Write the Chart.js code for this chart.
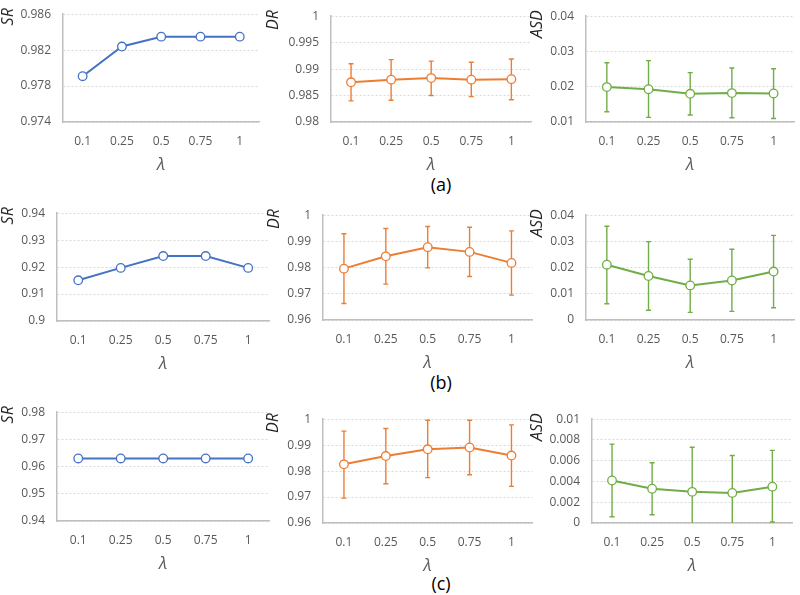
<!DOCTYPE html>
<html>
<head>
<meta charset="utf-8">
<script src="https://cdn.jsdelivr.net/npm/chart.js@4.4.1/dist/chart.umd.min.js"></script>
<style>
    html, body { margin: 0; padding: 0; background: #fff; }
    #page { position: relative; width: 800px; height: 595px; overflow: hidden; background: #fff; }
    #page canvas { position: absolute; }
    .caption { position: absolute; width: 60px; text-align: center; font: 18px "Open Sans", sans-serif; color: #000; }
</style>
</head>
<body>
<div id="page">
    <div class="caption" style="left:411px; top:172px;">(a)</div>
    <div class="caption" style="left:411px; top:370px;">(b)</div>
    <div class="caption" style="left:411px; top:571px;">(c)</div>
</div>
<script>
// lambda values on the x axis
const lambdas = ["0.1", "0.25", "0.5", "0.75", "1"];

// (a)
const srA = [0.9791, 0.9824, 0.9835, 0.9835, 0.9835];
const drA = [0.9875, 0.9880, 0.9883, 0.9880, 0.9881];
const drALow = [0.9840, 0.9841, 0.9850, 0.9848, 0.9842];
const drAHigh = [0.9910, 0.9918, 0.9915, 0.9913, 0.9919];
const asdA = [0.0199, 0.0193, 0.0180, 0.0182, 0.0181];
const asdALow = [0.0129, 0.0113, 0.0120, 0.0112, 0.0110];
const asdAHigh = [0.0268, 0.0274, 0.0240, 0.0253, 0.0251];

// (b)
const srB = [0.9151, 0.9197, 0.9241, 0.9241, 0.9197];
const drB = [0.9796, 0.9843, 0.9878, 0.9860, 0.9818];
const drBLow = [0.9663, 0.9737, 0.9799, 0.9766, 0.9695];
const drBHigh = [0.9929, 0.9949, 0.9957, 0.9954, 0.9940];
const asdB = [0.0211, 0.0168, 0.0132, 0.0151, 0.0185];
const asdBLow = [0.0062, 0.0037, 0.0029, 0.0033, 0.0047];
const asdBHigh = [0.0358, 0.0299, 0.0232, 0.0270, 0.0323];

// (c)
const srC = [0.963, 0.963, 0.963, 0.963, 0.963];
const drC = [0.9826, 0.9858, 0.9884, 0.9891, 0.9860];
const drCLow = [0.9696, 0.9751, 0.9775, 0.9786, 0.9741];
const drCHigh = [0.9954, 0.9964, 0.9996, 0.9996, 0.9978];
const asdC = [0.0041, 0.0033, 0.0030, 0.0029, 0.0035];
const asdCLow = [0.0006, 0.0008, -0.0013, -0.0007, 0.0001];
const asdCHigh = [0.0076, 0.0058, 0.0073, 0.0065, 0.0070];

// y axis [min, max, step]
const srARange = [0.974, 0.986, 0.004];
const drARange = [0.98, 1, 0.005];
const asdARange = [0.01, 0.04, 0.01];
const srBRange = [0.9, 0.94, 0.01];
const drBRange = [0.96, 1, 0.01];
const asdBRange = [0, 0.04, 0.01];
const srCRange = [0.94, 0.98, 0.01];
const drCRange = [0.96, 1, 0.01];
const asdCRange = [0, 0.01, 0.002];

const BLUE = "#4472C4";
const ORANGE = "#ED7D31";
const GREEN = "#70AD47";
const TEXT = "#595959";
const FONT = "'Open Sans', sans-serif";

// error bars drawn under the line, clipped to the plot
const errorBars = {
    id: "errorBars",
    beforeDatasetsDraw(chart) {
        const ds = chart.data.datasets[0];
        if (!ds.errLow) return;
        const { ctx, chartArea, scales: { x, y } } = chart;
        ctx.save();
        ctx.beginPath();
        ctx.rect(chartArea.left, chartArea.top - 2, chartArea.right - chartArea.left, chartArea.bottom - chartArea.top + 2);
        ctx.clip();
        ctx.strokeStyle = ds.borderColor;
        ctx.lineWidth = 1.4;
        ds.data.forEach((v, i) => {
            const px = x.getPixelForValue(i);
            const top = y.getPixelForValue(ds.errHigh[i]);
            const bot = y.getPixelForValue(ds.errLow[i]);
            ctx.beginPath();
            ctx.moveTo(px, top);
            ctx.lineTo(px, bot);
            ctx.moveTo(px - 2.5, top);
            ctx.lineTo(px + 2.5, top);
            ctx.moveTo(px - 2.5, bot);
            ctx.lineTo(px + 2.5, bot);
            ctx.stroke();
        });
        ctx.restore();
    }
};

// y title sits a little above the plot top, like the original
const yTitle = {
    id: "yTitle",
    afterDraw(chart, args, opts) {
        const { ctx, chartArea } = chart;
        ctx.save();
        ctx.translate(opts.x, chartArea.top - 6);
        ctx.rotate(-Math.PI / 2);
        ctx.font = "italic 16px " + FONT;
        ctx.fillStyle = "#262626";
        ctx.textAlign = "right";
        ctx.textBaseline = "middle";
        ctx.fillText(opts.text, 0, 0);
        ctx.restore();
    }
};

function makePanel(box, title, values, low, high, range, color) {
    const padTop = 10;
    const xAxisH = 56;
    const left = box.titleX - 13;
    const top = box.top - padTop;
    const width = box.right - left;
    const height = box.bottom - top + xAxisH;
    const yAxisW = box.axisX - left;

    const canvas = document.createElement("canvas");
    canvas.width = width;
    canvas.height = height;
    canvas.style.left = left + "px";
    canvas.style.top = top + "px";
    canvas.style.width = width + "px";
    canvas.style.height = height + "px";
    document.getElementById("page").appendChild(canvas);

    return new Chart(canvas, {
        type: "line",
        data: {
            labels: lambdas,
            datasets: [{
                data: values,
                errLow: low,
                errHigh: high,
                borderColor: color,
                borderWidth: 2,
                backgroundColor: "#fff",
                pointBackgroundColor: "#fff",
                pointBorderColor: color,
                pointBorderWidth: 1.3,
                pointRadius: 4.3,
                tension: 0
            }]
        },
        options: {
            responsive: false,
            animation: false,
            layout: { padding: { top: padTop, left: 0, right: 0, bottom: 0 } },
            plugins: {
                legend: { display: false },
                tooltip: { enabled: false },
                yTitle: { text: title, x: 13 }
            },
            scales: {
                x: {
                    offset: true,
                    afterFit: s => { s.height = xAxisH; },
                    grid: { display: false },
                    border: { display: true, color: "#bfbfbf", width: 1.5 },
                    ticks: { color: TEXT, padding: 4, font: { family: FONT, size: 12 } },
                    title: {
                        display: true,
                        text: "λ",
                        color: TEXT,
                        padding: { top: 0, bottom: 3 },
                        font: { family: FONT, size: 17, style: "italic" }
                    }
                },
                y: {
                    min: range[0],
                    max: range[1],
                    afterFit: s => { s.width = yAxisW; },
                    grid: { color: "#d9d9d9", lineWidth: 1, drawTicks: false },
                    border: { display: true, color: "#bfbfbf", width: 1.5, dash: [2, 2] },
                    ticks: {
                        stepSize: range[2],
                        color: TEXT,
                        padding: 12,
                        font: { family: FONT, size: 12 },
                        callback: v => String(parseFloat(v.toFixed(6)))
                    }
                }
            }
        },
        plugins: [errorBars, yTitle]
    });
}

document.addEventListener("DOMContentLoaded", () => {
    makePanel({ axisX: 63, right: 265, top: 5, bottom: 122, titleX: 8 }, "SR", srA, null, null, srARange, BLUE);
    makePanel({ axisX: 331, right: 537, top: 7, bottom: 122, titleX: 273 }, "DR", drA, drALow, drAHigh, drARange, ORANGE);
    makePanel({ axisX: 586, right: 800, top: 7, bottom: 122, titleX: 537 }, "ASD", asdA, asdALow, asdAHigh, asdARange, GREEN);

    makePanel({ axisX: 57, right: 275, top: 204, bottom: 321, titleX: 8 }, "SR", srB, null, null, srBRange, BLUE);
    makePanel({ axisX: 323, right: 538, top: 206, bottom: 320, titleX: 274 }, "DR", drB, drBLow, drBHigh, drBRange, ORANGE);
    makePanel({ axisX: 586, right: 800, top: 206, bottom: 320, titleX: 537 }, "ASD", asdB, asdBLow, asdBHigh, asdBRange, GREEN);

    makePanel({ axisX: 57, right: 275, top: 403, bottom: 521, titleX: 8 }, "SR", srC, null, null, srCRange, BLUE);
    makePanel({ axisX: 323, right: 538, top: 410, bottom: 523, titleX: 273 }, "DR", drC, drCLow, drCHigh, drCRange, ORANGE);
    makePanel({ axisX: 592, right: 798, top: 410, bottom: 523, titleX: 537 }, "ASD", asdC, asdCLow, asdCHigh, asdCRange, GREEN);
});
</script>
</body>
</html>
